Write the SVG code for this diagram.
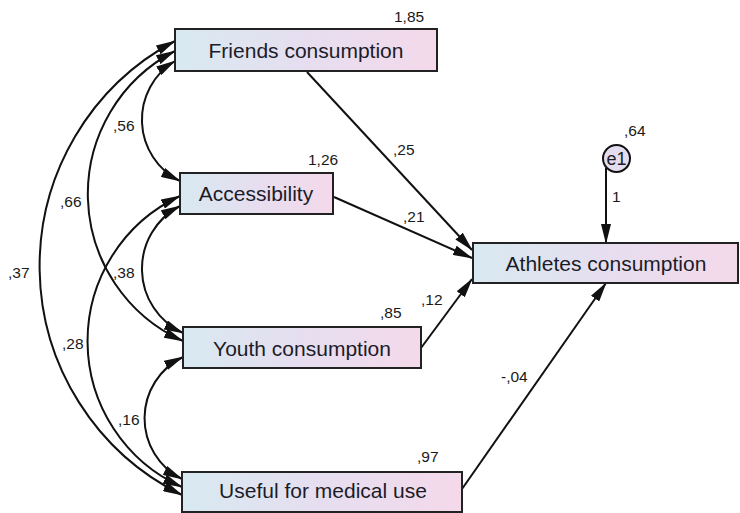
<svg xmlns="http://www.w3.org/2000/svg" width="740" height="513" viewBox="0 0 740 513">
<defs>
<linearGradient id="boxfill" x1="0" y1="0" x2="1" y2="0">
<stop offset="0" stop-color="#d8e9f1"/>
<stop offset="0.5" stop-color="#e6def0"/>
<stop offset="1" stop-color="#f4d9ea"/>
</linearGradient>
<marker id="ah" viewBox="0 0 20 10" markerWidth="20" markerHeight="10" refX="19" refY="5" orient="auto-start-reverse" markerUnits="userSpaceOnUse">
<path d="M0,0 L20,5 L0,10 z" fill="#111"/>
</marker>
</defs>
<style>
.box{fill:url(#boxfill);stroke:#222;stroke-width:2}
.lbl{font-family:"Liberation Sans",Arial,sans-serif;font-size:21px;fill:#1c1c28;text-anchor:middle}
.num{font-family:"Liberation Sans",Arial,sans-serif;font-size:15.5px;fill:#1a1a1a}
.path{fill:none;stroke:#111;stroke-width:2;marker-end:url(#ah)}
.cov{fill:none;stroke:#111;stroke-width:2;marker-start:url(#ah);marker-end:url(#ah)}
</style>
<rect width="740" height="513" fill="#ffffff"/>
<g id="connectors">
<path class="cov" d="M175,41 A255,255 0 0 0 182,495"/>
<path class="cov" d="M175,51 A161,161 0 0 0 183,341"/>
<path class="cov" d="M175,61 A68.5,68.5 0 0 0 180,181"/>
<path class="cov" d="M180,196 A160,160 0 0 0 182,487"/>
<path class="cov" d="M180,206 A70.8,70.8 0 0 0 183,333"/>
<path class="cov" d="M183,357 A68,68 0 0 0 182,479"/>
<path class="path" d="M307,72 L472,250"/>
<path class="path" d="M334,197 L472,258"/>
<path class="path" d="M421,348 L472,279"/>
<path class="path" d="M462,489 L606,283"/>
<path class="path" d="M606,168 L606,243"/>
</g>
<g id="friends">
<rect class="box" x="175" y="29" width="262" height="42"/>
<text class="lbl" x="306" y="58">Friends consumption</text>
<text class="num" x="394" y="22">1,85</text>
</g>
<g id="accessibility">
<rect class="box" x="180" y="173" width="153" height="41"/>
<text class="lbl" x="256" y="201">Accessibility</text>
<text class="num" x="308" y="165">1,26</text>
</g>
<g id="youth">
<rect class="box" x="183" y="327" width="238" height="41"/>
<text class="lbl" x="302" y="356">Youth consumption</text>
<text class="num" x="380" y="318">,85</text>
</g>
<g id="useful">
<rect class="box" x="182" y="472" width="280" height="40"/>
<text class="lbl" x="323" y="498">Useful for medical use</text>
<text class="num" x="417" y="462">,97</text>
</g>
<g id="athletes">
<rect class="box" x="473" y="243" width="265" height="40"/>
<text class="lbl" x="606" y="271">Athletes consumption</text>
</g>
<g id="e1">
<circle cx="616.5" cy="158.5" r="13.5" fill="#e4dcef" stroke="#111" stroke-width="2"/>
<text class="lbl" x="616.5" y="165" style="font-size:18px">e1</text>
<text class="num" x="624" y="136">,64</text>
</g>
<g id="labels">
<text class="num" x="393" y="155">,25</text>
<text class="num" x="403" y="222">,21</text>
<text class="num" x="421" y="305">,12</text>
<text class="num" x="501" y="382">-,04</text>
<text class="num" x="612" y="202">1</text>
<text class="num" x="113" y="131">,56</text>
<text class="num" x="60" y="207">,66</text>
<text class="num" x="8" y="278">,37</text>
<text class="num" x="113" y="278">,38</text>
<text class="num" x="62" y="349">,28</text>
<text class="num" x="118" y="425">,16</text>
</g>
</svg>
